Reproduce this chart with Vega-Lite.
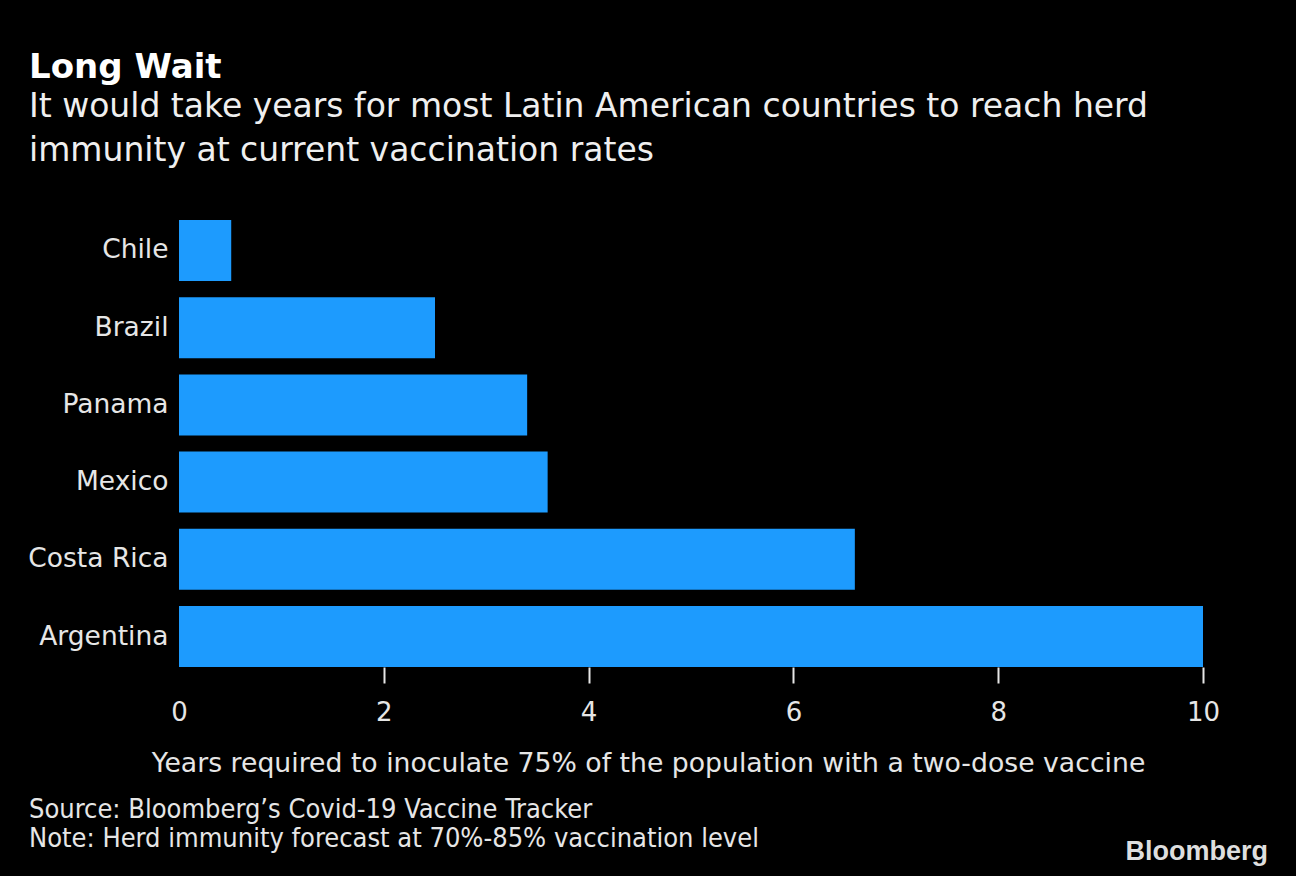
{
  "$schema": "https://vega.github.io/schema/vega-lite/v6.json",
  "width": 1024,
  "height": 447,
  "autosize": "none",
  "padding": {"left": 179, "top": 220, "right": 93, "bottom": 209},
  "background": "#000000",
  "config": {
    "view": {"stroke": null},
    "font": "DejaVu Sans"
  },
  "title": {
    "text": "Long Wait",
    "subtitle": ["It would take years for most Latin American countries to reach herd", "immunity at current vaccination rates"],
    "anchor": "start",
    "frame": "group",
    "dx": -150,
    "offset": 52,
    "font": "DejaVu Sans",
    "fontSize": 34,
    "fontWeight": "bold",
    "color": "#ffffff",
    "subtitleFont": "DejaVu Sans",
    "subtitleFontSize": 33,
    "subtitleColor": "#efefef",
    "subtitleLineHeight": 44,
    "subtitlePadding": 6
  },
  "layer": [
    {
      "data": {
        "values": [
          {"country": "Chile", "years": 0.51},
          {"country": "Brazil", "years": 2.5},
          {"country": "Panama", "years": 3.4},
          {"country": "Mexico", "years": 3.6},
          {"country": "Costa Rica", "years": 6.6},
          {"country": "Argentina", "years": 10.0}
        ]
      },
      "mark": {"type": "bar", "color": "#1d9bfe"},
      "encoding": {
        "y": {
          "field": "country",
          "type": "nominal",
          "sort": null,
          "scale": {"paddingInner": 0.21, "paddingOuter": 0},
          "axis": {
            "title": null,
            "domain": false,
            "ticks": false,
            "labelFontSize": 26.5,
            "labelColor": "#e6e6e6",
            "labelPadding": 11,
            "labelFont": "DejaVu Sans"
          }
        },
        "x": {
          "field": "years",
          "type": "quantitative",
          "scale": {"domain": [0, 10], "nice": false},
          "axis": {
            "title": "Years required to inoculate 75% of the population with a two-dose vaccine",
            "values": [0, 2, 4, 6, 8, 10],
            "grid": false,
            "domain": false,
            "labelFlush": false,
            "tickColor": "#e6e6e6",
            "tickWidth": 2,
            "tickSize": 16,
            "tickOpacity": {"condition": {"test": "datum.value === 0", "value": 0}, "value": 1},
            "labelFontSize": 26,
            "labelColor": "#e6e6e6",
            "labelPadding": 16,
            "labelFont": "DejaVu Sans",
            "titleFont": "DejaVu Sans",
            "titleFontSize": 26.7,
            "titleFontWeight": "normal",
            "titleColor": "#e6e6e6",
            "titlePadding": 25,
            "titleX": 469
          }
        }
      }
    },
    {
      "data": {"values": [{"note": "Source: Bloomberg’s Covid-19 Vaccine Tracker\nNote: Herd immunity forecast at 70%-85% vaccination level"}]},
      "mark": {
        "type": "text",
        "align": "left",
        "baseline": "alphabetic",
        "lineBreak": "\n",
        "lineHeight": 29,
        "font": "DejaVu Sans Condensed",
        "fontSize": 27,
        "color": "#e6e6e6",
        "x": -150,
        "y": 598
      },
      "encoding": {"text": {"field": "note"}}
    },
    {
      "data": {"values": [{"brand": "Bloomberg"}]},
      "mark": {
        "type": "text",
        "align": "right",
        "baseline": "alphabetic",
        "font": "Liberation Sans",
        "fontWeight": "bold",
        "fontSize": 27,
        "color": "#dedede",
        "x": 1089,
        "y": 640
      },
      "encoding": {"text": {"field": "brand"}}
    }
  ]
}
